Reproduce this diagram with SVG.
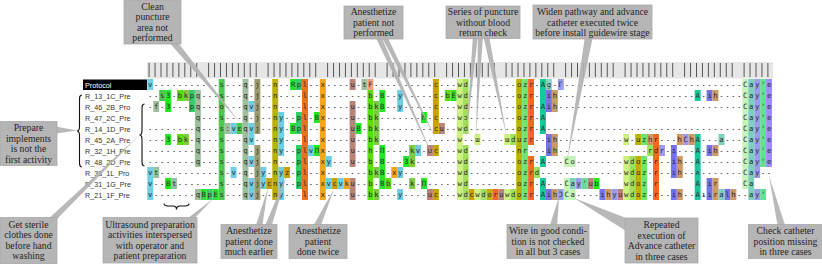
<svg xmlns="http://www.w3.org/2000/svg" width="822" height="264" viewBox="0 0 822 264">
<style>
.lbl{font-family:"Liberation Sans",Arial,sans-serif;font-size:7.2px;fill:#333}
.seq{font-family:"DejaVu Sans Mono",monospace;font-size:7.3px;fill:#2a2a2a;text-anchor:middle}
.dots{stroke:#666;stroke-width:1;stroke-dasharray:1.6 4.35;fill:none}
.box{fill:#b5b5b5;stroke:#aaaaaa;stroke-width:0.8}
.nt{font-family:"Liberation Serif","Times New Roman",serif;font-size:9.7px;fill:#262626;text-anchor:middle}
.wedge{fill:#b3b3b3;opacity:0.92}
.brace{fill:none;stroke:#111;stroke-width:1.1}
</style>
<rect width="822" height="264" fill="#ffffff"/>
<g id="header">
<rect x="147" y="62" width="626" height="16.5" fill="#e6e6e6"/>
<path stroke="#555" stroke-width="1" fill="none" d="M149.1 63v14m5.95-14v14m5.95-14v14m5.95-14v14m5.95-14v14m5.95-14v14m5.95-14v14m5.95-14v14m5.95-14v14m11.9-14v14m5.95-14v14m5.95-14v14m5.95-14v14m5.95-14v14m5.95-14v14m5.95-14v14m5.95-14v14m5.95-14v14m11.9-14v14m5.95-14v14m5.95-14v14m5.95-14v14m5.95-14v14m5.95-14v14m5.95-14v14m5.95-14v14m5.95-14v14m11.9-14v14m5.95-14v14m5.95-14v14m5.95-14v14m5.95-14v14m5.95-14v14m5.95-14v14m5.95-14v14m5.95-14v14m11.9-14v14m5.95-14v14m5.95-14v14m5.95-14v14m5.95-14v14m5.95-14v14m5.95-14v14m5.95-14v14m5.95-14v14m11.9-14v14m5.95-14v14m5.95-14v14m5.95-14v14m5.95-14v14m5.95-14v14m5.95-14v14m5.95-14v14m5.95-14v14m11.9-14v14m5.95-14v14m5.95-14v14m5.95-14v14m5.95-14v14m5.95-14v14m5.95-14v14m5.95-14v14m5.95-14v14m11.9-14v14m5.95-14v14m5.95-14v14m5.95-14v14m5.95-14v14m5.95-14v14m5.95-14v14m5.95-14v14m5.95-14v14m11.9-14v14m5.95-14v14m5.95-14v14m5.95-14v14m5.95-14v14m5.95-14v14m5.95-14v14m5.95-14v14m5.95-14v14m11.9-14v14m5.95-14v14m5.95-14v14m5.95-14v14m5.95-14v14m5.95-14v14m5.95-14v14m5.95-14v14m5.95-14v14m11.9-14v14m5.95-14v14m5.95-14v14m5.95-14v14m5.95-14v14"/>
</g>
<g id="dots" class="dots">
<path d="M149.5 85.5H772M149.5 96.5H772M149.5 107.5H772M197.1 118.5H546M149.5 129.5H772M149.5 140.5H772M149.5 151.5H772M149.5 162.5H772M149.5 173.5H772M149.5 184.5H599.5M149.5 195.5H766"/>
</g>
<g id="cells" transform="translate(147.3 79) scale(5.95 11)">
<path fill="#6ccfe3" d="M0 0h1v1h-1zM0 8h1v3h-1zM17 2h1v1h-1zM17 4h1v2h-1zM17 7h1v1h-1zM17 9h1v2h-1zM22 3h1v4h-1zM22 8h1v3h-1zM14 4h1v1h-1zM14 8h1v1h-1zM19 8h1v2h-1zM27 6h1v1h-1zM30 7h1v1h-1zM30 9h1v1h-1zM32 9h1v1h-1zM42 1h1v2h-1zM42 8h1v1h-1zM42 10h1v1h-1zM45 6h1v1h-1z"/>
<path fill="#4ec74e" d="M12 0h1v11h-1zM2 1h1v1h-1zM15 4h1v1h-1z"/>
<path fill="#9ebf9e" d="M16 0h1v11h-1zM8 1h1v7h-1zM8 10h1v1h-1zM1 2h1v1h-1zM1 8h1v1h-1zM4 9h1v1h-1zM13 4h1v1h-1zM36 0h1v1h-1z"/>
<path fill="#9c9c70" d="M18 0h1v5h-1zM18 6h1v5h-1z"/>
<path fill="#bbb300" d="M21 0h1v11h-1zM62 0h1v11h-1zM57 10h1v1h-1zM82 5h1v1h-1zM82 7h1v4h-1z"/>
<path fill="#27e627" d="M24 0h1v1h-1zM3 1h1v2h-1zM3 5h1v1h-1zM24 4h1v1h-1zM28 3h1v1h-1zM3 9h1v1h-1zM28 6h1v1h-1zM51 1h1v1h-1zM39 1h1v2h-1zM39 6h1v4h-1zM35 4h1v1h-1zM43 7h1v1h-1zM46 9h1v1h-1zM9 10h1v1h-1zM11 10h1v1h-1zM75 9h1v1h-1zM46 3h1v1h-1z"/>
<path fill="#33cc66" d="M25 0h1v1h-1zM25 3h1v2h-1zM25 6h1v4h-1zM7 1h1v2h-1zM10 10h1v1h-1z"/>
<path fill="#e8731c" d="M26 0h1v11h-1z"/>
<path fill="#f3a421" d="M29 0h1v11h-1zM41 8h1v1h-1zM33 9h1v1h-1z"/>
<path fill="#b8847a" d="M34 0h1v1h-1zM34 2h1v6h-1zM34 9h1v2h-1zM49 4h1v1h-1zM47 6h1v1h-1zM47 10h1v1h-1zM74 9h1v1h-1zM59 10h1v1h-1zM79 10h1v1h-1z"/>
<path fill="#f4a07e" d="M37 0h1v1h-1z"/>
<path fill="#5ddd10" d="M37 1h1v10h-1zM5 1h1v1h-1zM5 5h1v1h-1zM50 1h1v1h-1zM40 9h1v1h-1z"/>
<path fill="#7ecb45" d="M38 2h1v4h-1zM38 8h1v1h-1zM38 10h1v1h-1zM6 1h1v1h-1zM6 5h1v1h-1zM44 6h1v2h-1zM44 9h1v1h-1z"/>
<path fill="#c9a200" d="M48 0h1v5h-1zM48 6h1v1h-1zM48 10h1v1h-1zM20 9h1v1h-1zM31 9h1v1h-1zM23 8h1v1h-1zM54 10h1v1h-1z"/>
<path fill="#cdf07f" d="M52 0h1v11h-1zM55 5h1v1h-1zM60 5h1v1h-1zM55 10h1v1h-1zM60 10h1v1h-1zM80 5h1v1h-1zM80 7h1v4h-1z"/>
<path fill="#a2e059" d="M53 0h1v5h-1zM53 6h1v5h-1zM61 5h1v1h-1zM61 10h1v1h-1zM56 10h1v1h-1zM65 8h1v1h-1zM81 7h1v4h-1zM84 6h1v1h-1z"/>
<path fill="#6ae86a" d="M63 0h1v11h-1zM83 5h1v1h-1zM83 7h1v4h-1z"/>
<path fill="#ee6a22" d="M64 0h1v6h-1zM64 7h1v4h-1zM58 10h1v1h-1zM85 5h1v6h-1z"/>
<path fill="#14c99a" d="M66 0h1v5h-1zM66 7h1v1h-1zM66 9h1v2h-1zM92 1h1v1h-1zM92 5h1v6h-1z"/>
<path fill="#8fd3c3" d="M67 0h1v1h-1z"/>
<path fill="#7474ea" d="M67 1h1v2h-1zM67 5h1v2h-1zM67 10h1v1h-1zM88 6h1v3h-1zM88 10h1v1h-1zM94 1h1v1h-1zM94 6h1v1h-1zM94 9h1v2h-1zM76 10h1v1h-1zM97 10h1v1h-1z"/>
<path fill="#9c9cee" d="M102 0h1v9h-1zM102 10h1v1h-1zM69 0h1v1h-1zM90 5h1v1h-1zM69 10h1v1h-1zM72 9h1v1h-1zM78 10h1v1h-1zM86 6h1v1h-1z"/>
<path fill="#cc9a66" d="M68 1h1v2h-1zM68 5h1v2h-1zM68 10h1v1h-1zM89 5h1v1h-1zM89 7h1v2h-1zM89 10h1v1h-1zM84 5h1v1h-1zM91 5h1v1h-1zM95 1h1v1h-1zM95 6h1v1h-1zM95 9h1v2h-1zM77 10h1v1h-1zM98 10h1v1h-1z"/>
<path fill="#c5f4b9" d="M100 0h1v10h-1zM70 7h2v1h-2zM70 9h1v1h-1zM70 10h2v1h-2z"/>
<path fill="#7fcfbf" d="M101 0h1v11h-1zM96 5h1v1h-1zM96 10h1v1h-1zM71 9h1v1h-1z"/>
<path fill="#66dd99" d="M103 0h1v8h-1zM103 10h1v1h-1zM73 9h1v1h-1z"/>
<path fill="#9f8eef" d="M104 0h1v8h-1z"/>
</g>
<g id="row0">
<rect x="83" y="79.5" width="64" height="10.5" fill="#000"/>
<text class="lbl" x="85" y="88" style="fill:#fff">Protocol</text>
<text class="seq" y="87.3" x="150.3 221.7 245.5 257.4 275.2 293.1 299 305 322.8 352.6 364.5 370.4 435.9 459.7 465.6 519.2 525.1 531.1 543 548.9 560.8 745.3 751.2 757.2 763.1 769.1">vsqjnRplxutFcwdozrAgΓCay'e</text>
</g>
<g id="row1">
<text class="lbl" x="85" y="99">R_13_1C_Pre</text>
<text class="seq" y="98.3" x="162.2 168.1 180 186 191.9 197.9 221.7 245.5 257.4 275.2 305 322.8 370.4 382.3 400.2 435.9 447.8 453.7 459.7 465.6 519.2 525.1 531.1 548.9 554.9 697.7 709.6 715.5 745.3 751.2 757.2 763.1 769.1">s3bkpqsqjnlxbBycbEwdozrihAihCay'e</text>
</g>
<g id="row2">
<text class="lbl" x="85" y="110">R_46_2B_Pro</text>
<text class="seq" y="109.3" x="156.2 168.1 191.9 197.9 221.7 245.5 251.4 257.4 275.2 305 322.8 352.6 370.4 376.4 382.3 400.2 435.9 459.7 465.6 519.2 525.1 531.1 543 548.9 554.9 745.3 751.2 757.2 763.1 769.1">f3pqoqvjnlxubkBycwdozrAihCay'e</text>
</g>
<g id="row3">
<text class="lbl" x="85" y="121">R_47_2C_Pre</text>
<text class="seq" y="120.3" x="197.9 221.7 245.5 257.4 275.2 281.2 299 305 316.9 322.8 352.6 370.4 376.4 424 435.9 459.7 465.6 519.2 525.1 531.1 543 745.3 751.2 757.2 763.1 769.1">qsqjnyplBxubkhcwɔozrACay'e</text>
</g>
<g id="row4">
<text class="lbl" x="85" y="132">R_14_1D_Pre</text>
<text class="seq" y="131.3" x="197.9 221.7 227.6 233.6 239.5 245.5 251.4 257.4 275.2 281.2 293.1 299 305 322.8 352.6 358.5 370.4 376.4 435.9 441.8 459.7 465.6 519.2 525.1 531.1 543 745.3 751.2 757.2 763.1 769.1">qsːvɛqvjnyBplxuBbkcuwdozrACay'e</text>
</g>
<g id="row5">
<text class="lbl" x="85" y="143">R_45_2A_Pre</text>
<text class="seq" y="142.3" x="168.1 180 186 197.9 221.7 245.5 251.4 275.2 281.2 305 322.8 352.6 370.4 376.4 459.7 477.5 507.3 513.2 519.2 525.1 531.1 548.9 554.9 626.3 638.2 644.1 650.1 656 679.8 685.8 691.7 697.7 721.5 745.3 751.2 757.2 763.1 769.1">3bkqsqvnylxubkwɯɯduzrihwuzhrhChAaCay'e</text>
</g>
<g id="row6">
<text class="lbl" x="85" y="154">R_32_1H_Pre</text>
<text class="seq" y="153.3" x="197.9 221.7 245.5 257.4 275.2 281.2 299 305 310.9 316.9 322.8 352.6 370.4 382.3 412.1 418 429.9 435.9 459.7 465.6 519.2 525.1 548.9 554.9 650.1 656 662 673.9 697.7 709.6 715.5 745.3 751.2 757.2 763.1 769.1">qsqjnyplvΠxuhΠkvucwdnrihrdriAihCay'e</text>
</g>
<g id="row7">
<text class="lbl" x="85" y="165">R_48_2D_Pre</text>
<text class="seq" y="164.3" x="197.9 221.7 245.5 251.4 257.4 275.2 299 305 322.8 328.8 352.6 370.4 382.3 406.1 412.1 459.7 465.6 519.2 525.1 531.1 543 566.8 572.7 626.3 632.2 638.2 644.1 656 673.9 679.8 697.7 745.3 751.2 757.2 763.1 769.1">qsqvjnplxyubB3kwdozrACowdozrihACay'e</text>
</g>
<g id="row8">
<text class="lbl" x="85" y="176">R_33_1L_Pro</text>
<text class="seq" y="175.3" x="150.3 156.2 221.7 233.6 245.5 257.4 263.3 275.2 281.2 287.1 299 305 322.8 370.4 376.4 382.3 394.2 400.2 459.7 465.6 519.2 525.1 531.1 537 626.3 632.2 638.2 644.1 656 673.9 679.8 697.7 745.3 751.2 757.2">vtsvqjynyzplxbkBxywdozrdwdozrıhʌCay</text>
</g>
<g id="row9">
<text class="lbl" x="85" y="187">R_31_1G_Pre</text>
<text class="seq" y="186.3" x="150.3 168.1 174.1 221.7 245.5 251.4 257.4 263.3 269.3 275.2 281.2 299 305 322.8 328.8 334.7 340.7 346.6 352.6 370.4 382.3 388.3 412.1 424 459.7 465.6 519.2 525.1 531.1 543 566.8 572.7 578.7 584.6 590.6 596.5 626.3 632.2 638.2 644.1 656 697.7 709.6 715.5 745.3 751.2">vBtsqvjycnyplxvcvkubBbkΠwdozrACay'ubwdozrAirCa</text>
</g>
<g id="row10">
<text class="lbl" x="85" y="198">R_21_1F_Pre</text>
<text class="seq" y="197.3" x="150.3 197.9 203.8 209.8 215.7 221.7 245.5 251.4 257.4 275.2 281.2 305 322.8 352.6 370.4 376.4 400.2 429.9 435.9 459.7 465.6 471.6 477.5 483.5 489.4 495.4 501.3 507.3 513.2 519.2 525.1 531.1 543 548.9 554.9 560.8 566.8 572.7 602.5 608.4 614.4 620.3 626.3 632.2 638.2 644.1 656 673.9 679.8 697.7 703.6 709.6 715.5 721.5 727.4 733.4 751.2 757.2 763.1">vqBpEsqvjnylxubkyucwdcwdoruwdozrAihƆCaıhyuwdozrihAııralhay'</text>
</g>
<g id="braces" class="brace">
<path d="M82 95C79.5 95 79.5 97 79.5 100L79.5 126.5C79.5 129.5 79 131 77 131C79 131 79.5 132.5 79.5 135.5L79.5 162C79.5 165 79.5 167 82 167"/>
<path d="M144.5 104C142 104 142 106 142 109L142 130.5C142 133.5 141.5 135 139.5 135C141.5 135 142 136.5 142 139.5L142 161C142 164 142 166 144.5 166"/>
<path d="M164 203.5C164 205.5 165.5 206 168 206L173 206C175.5 206 176.5 207 176.5 209.5C176.5 207 177.5 206 180 206L185 206C187.5 206 189 205.5 189 203.5"/>
</g>
<g id="connectors" class="wedge">
<polygon points="167,40 176,40 241,124"/>
<polygon points="53,126 53,134 77,130.5"/>
<polygon points="46,221 55,221 139,135.5"/>
<polygon points="184,221 192,221 213,199"/>
<polygon points="255,228 262,228 268,188"/>
<polygon points="264,228 271,228 287,174"/>
<polygon points="312,228 320,228 334,189"/>
<polygon points="375,36 381,36 435,161"/>
<polygon points="381,36 387,36 436,139"/>
<polygon points="473,35 478,35 466,139"/>
<polygon points="478,35 483,35 476,138"/>
<polygon points="483,35 489,35 507,138"/>
<polygon points="585,36 593,36 567,161"/>
<polygon points="549,228 557,228 559,197"/>
<polygon points="626,231 634,221 574,198"/>
<polygon points="778,228 786,228 769,176"/>
</g>
<g id="note-clean">
<rect class="box" x="124" y="0" width="57" height="44"/>
<text class="nt" x="152.5" y="9.5">Clean</text>
<text class="nt" x="152.5" y="20">puncture</text>
<text class="nt" x="152.5" y="30.5">area not</text>
<text class="nt" x="152.5" y="41">performed</text>
</g>
<g id="note-prepare">
<rect class="box" x="0" y="121.5" width="57" height="44"/>
<text class="nt" x="28.5" y="131.3">Prepare</text>
<text class="nt" x="28.5" y="141.7">implements</text>
<text class="nt" x="28.5" y="152.3">is not the</text>
<text class="nt" x="28.5" y="162.8">first activity</text>
</g>
<g id="note-sterile">
<rect class="box" x="0" y="217.5" width="57" height="46.5"/>
<text class="nt" x="28.5" y="227.7">Get sterile</text>
<text class="nt" x="28.5" y="238.3">clothes done</text>
<text class="nt" x="28.5" y="248.8">before hand</text>
<text class="nt" x="28.5" y="259.3">washing</text>
</g>
<g id="note-ultrasound">
<rect class="box" x="103" y="217.5" width="94" height="45.5"/>
<text class="nt" x="150" y="227.7">Ultrasound preparation</text>
<text class="nt" x="150" y="238">activities interspersed</text>
<text class="nt" x="150" y="248.5">with operator and</text>
<text class="nt" x="150" y="259">patient preparation</text>
</g>
<g id="note-earlier">
<rect class="box" x="221" y="224.5" width="56" height="34"/>
<text class="nt" x="249" y="234.3">Anesthetize</text>
<text class="nt" x="249" y="244.6">patient done</text>
<text class="nt" x="249" y="255">much earlier</text>
</g>
<g id="note-twice">
<rect class="box" x="289" y="224.5" width="58" height="34"/>
<text class="nt" x="318" y="234.3">Anesthetize</text>
<text class="nt" x="318" y="244.6">patient</text>
<text class="nt" x="318" y="255">done twice</text>
</g>
<g id="note-notperformed">
<rect class="box" x="344" y="6" width="59" height="33"/>
<text class="nt" x="373.5" y="15.3">Anesthetize</text>
<text class="nt" x="373.5" y="25.6">patient not</text>
<text class="nt" x="373.5" y="35.8">performed</text>
</g>
<g id="note-series">
<rect class="box" x="446" y="6" width="74" height="32.5"/>
<text class="nt" x="483" y="15.3">Series of puncture</text>
<text class="nt" x="483" y="25.6">without blood</text>
<text class="nt" x="483" y="35.8">return check</text>
</g>
<g id="note-widen">
<rect class="box" x="533" y="5" width="119" height="34"/>
<text class="nt" x="592.5" y="15">Widen pathway and advance</text>
<text class="nt" x="592.5" y="25.5">catheter executed twice</text>
<text class="nt" x="592.5" y="36">before install guidewire stage</text>
</g>
<g id="note-wire">
<rect class="box" x="507" y="224.5" width="82" height="34"/>
<text class="nt" x="548" y="234.3">Wire in good condi-</text>
<text class="nt" x="548" y="244.6">tion is not checked</text>
<text class="nt" x="548" y="255">in all but 3 cases</text>
</g>
<g id="note-repeated">
<rect class="box" x="625" y="218" width="73" height="45"/>
<text class="nt" x="661.5" y="228.3">Repeated</text>
<text class="nt" x="661.5" y="238.8">execution of</text>
<text class="nt" x="661.5" y="249.3">Advance catheter</text>
<text class="nt" x="661.5" y="259.8">in three cases</text>
</g>
<g id="note-check">
<rect class="box" x="748.5" y="224.5" width="74" height="34"/>
<text class="nt" x="785.5" y="234.3">Check catheter</text>
<text class="nt" x="785.5" y="244.6">position missing</text>
<text class="nt" x="785.5" y="255">in three cases</text>
</g>
</svg>
